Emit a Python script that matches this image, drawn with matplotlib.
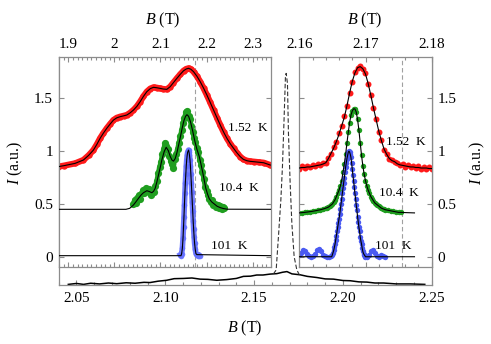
import matplotlib
matplotlib.use("Agg")
import matplotlib.pyplot as plt
from matplotlib.ticker import MultipleLocator, FormatStrFormatter, FuncFormatter

plt.rcParams['font.family'] = ['Liberation Serif', 'DejaVu Serif']
plt.rcParams['mathtext.fontset'] = 'custom'
plt.rcParams['mathtext.rm'] = 'Liberation Serif'
plt.rcParams['mathtext.it'] = 'Liberation Serif:italic'

# ---------------- bottom panel (full B axis) ----------------
bot_B = [2.0454, 2.0500, 2.0540, 2.0580, 2.0630, 2.0680, 2.0727, 2.0780, 2.0830, 2.0880,
         2.0914, 2.0960, 2.1008, 2.1050, 2.1102, 2.1150, 2.1196, 2.1240, 2.1290, 2.1346,
         2.1400, 2.1440, 2.1480, 2.1515, 2.1550, 2.1590, 2.1628, 2.1660, 2.1685, 2.1713,
         2.1759, 2.1800, 2.1854, 2.1900, 2.1947, 2.2000, 2.2041, 2.2090, 2.2135, 2.2180,
         2.2229, 2.2300, 2.2380, 2.2461]
bot_I = [0.004, 0.008, 0.004, 0.009, 0.006, 0.010, 0.007, 0.011, 0.009, 0.013,
         0.012, 0.018, 0.022, 0.029, 0.030, 0.032, 0.027, 0.026, 0.022, 0.025,
         0.030, 0.039, 0.040, 0.045, 0.045, 0.049, 0.051, 0.057, 0.060, 0.050,
         0.046, 0.039, 0.034, 0.028, 0.027, 0.021, 0.020, 0.015, 0.014, 0.010,
         0.010, 0.006, 0.006, 0.004]
dash_B = [2.1609, 2.16243, 2.16372, 2.16507, 2.16597, 2.16693, 2.16766, 2.16806,
          2.16879, 2.16935, 2.17031, 2.17127, 2.17256, 2.17408, 2.1759]
dash_I = [0.050, 0.067, 0.213, 0.373, 0.519, 0.738, 0.913, 0.927,
          0.884, 0.665, 0.446, 0.271, 0.125, 0.067, 0.040]

# ---------------- left panel ----------------
red_l_B = [1.878, 1.890, 1.9146, 1.9327, 1.9440, 1.9544, 1.9620, 1.9689, 1.9760, 1.9834,
           1.9910, 1.9979, 2.0050, 2.0124, 2.0200, 2.0269, 2.0340, 2.0414, 2.0490, 2.0559,
           2.0630, 2.0704, 2.0780, 2.0849, 2.0920, 2.0993, 2.1060, 2.1138, 2.1211, 2.1280,
           2.1356, 2.1430, 2.1501, 2.1560, 2.1609, 2.1660, 2.1718, 2.1790, 2.1863, 2.1935,
           2.2008, 2.2080, 2.2153, 2.2225, 2.2298, 2.2370, 2.2443, 2.2515, 2.2588, 2.2660,
           2.2733, 2.2800, 2.2878, 2.2950, 2.3023, 2.3130, 2.3240, 2.3385]
red_l_I = [0.853, 0.862, 0.884, 0.916, 0.960, 1.010, 1.065, 1.121, 1.170, 1.216,
           1.258, 1.294, 1.315, 1.326, 1.334, 1.342, 1.362, 1.389, 1.425, 1.468,
           1.518, 1.563, 1.592, 1.604, 1.600, 1.594, 1.588, 1.585, 1.610, 1.648,
           1.689, 1.727, 1.761, 1.778, 1.784, 1.775, 1.752, 1.710, 1.657, 1.597,
           1.531, 1.461, 1.389, 1.318, 1.247, 1.181, 1.121, 1.070, 1.026, 0.984,
           0.947, 0.922, 0.909, 0.903, 0.900, 0.895, 0.890, 0.868]

green_l_B = [2.041, 2.044, 2.047, 2.050, 2.053, 2.056, 2.059, 2.062, 2.065, 2.068,
             2.071, 2.074, 2.077, 2.080, 2.083, 2.086, 2.089, 2.092, 2.095, 2.098,
             2.101, 2.104, 2.107, 2.110, 2.113, 2.116, 2.119, 2.122, 2.125, 2.128,
             2.131, 2.134, 2.137, 2.140, 2.143, 2.146, 2.149, 2.152, 2.155, 2.158,
             2.161, 2.164, 2.167, 2.170, 2.173, 2.176, 2.179, 2.182, 2.185, 2.188,
             2.191, 2.194, 2.197, 2.200, 2.203, 2.206, 2.209, 2.212, 2.215, 2.218,
             2.221, 2.224, 2.227, 2.230, 2.233, 2.236, 2.239]
green_l_I = [0.50, 0.54, 0.51, 0.56, 0.58, 0.55, 0.60, 0.63, 0.60, 0.65,
             0.62, 0.64, 0.60, 0.58, 0.63, 0.61, 0.67, 0.72, 0.79, 0.85,
             0.90, 0.97, 1.02, 1.08, 1.05, 1.02, 0.95, 0.91, 0.88, 0.84,
             0.93, 0.97, 1.02, 1.08, 1.14, 1.20, 1.27, 1.31, 1.37, 1.38,
             1.33, 1.30, 1.24, 1.18, 1.12, 1.09, 1.03, 0.99, 0.92, 0.87,
             0.80, 0.74, 0.66, 0.62, 0.58, 0.55, 0.52, 0.54, 0.49, 0.50,
             0.47, 0.49, 0.46, 0.48, 0.45, 0.47, 0.46]
green_l_fitB = [1.879, 2.025, 2.033, 2.0413, 2.0470, 2.0522, 2.0580, 2.0630, 2.0704, 2.0760,
                2.0813, 2.0850, 2.0885, 2.0920, 2.0957, 2.1000, 2.1030, 2.1080, 2.1124, 2.1170,
                2.1211, 2.1250, 2.1283, 2.1320, 2.1357, 2.1400, 2.1428, 2.1470, 2.1510, 2.1545,
                2.1575, 2.1610, 2.1650, 2.1700, 2.1743, 2.1790, 2.1841, 2.1880, 2.1917, 2.1950,
                2.1983, 2.2020, 2.2059, 2.2110, 2.2167, 2.2230, 2.2298, 2.2370, 2.2450, 2.3400]
green_l_fitI = [0.449, 0.449, 0.458, 0.490, 0.522, 0.553, 0.585, 0.606, 0.625, 0.617,
                0.606, 0.620, 0.648, 0.705, 0.774, 0.855, 0.916, 0.995, 1.036, 1.005,
                0.950, 0.915, 0.905, 0.930, 0.985, 1.070, 1.125, 1.215, 1.290, 1.330,
                1.345, 1.330, 1.280, 1.190, 1.100, 1.020, 0.950, 0.875, 0.800, 0.725,
                0.650, 0.595, 0.550, 0.520, 0.500, 0.478, 0.465, 0.456, 0.450, 0.449]

blue_l_B = [2.1430, 2.1445, 2.1460, 2.1475, 2.1490, 2.1500, 2.1510, 2.1520, 2.1530, 2.1540,
            2.1550, 2.1560, 2.1570, 2.1580, 2.1590, 2.1600, 2.1610, 2.1620, 2.1630, 2.1640,
            2.1650, 2.1660, 2.1670, 2.1680, 2.1690, 2.1700, 2.1710, 2.1720, 2.1730, 2.1740,
            2.1755, 2.1770, 2.1790, 2.1810, 2.1830, 2.1848]
blue_l_I = [0.02, 0.01, 0.03, 0.08, 0.18, 0.28, 0.38, 0.49, 0.60, 0.70,
            0.78, 0.86, 0.92, 0.96, 0.99, 1.00, 1.01, 0.99, 0.96, 0.92,
            0.86, 0.78, 0.70, 0.61, 0.52, 0.43, 0.34, 0.26, 0.19, 0.13,
            0.07, 0.03, 0.02, 0.01, 0.02, 0.01]
blue_l_base = 0.01
dash_left = 2.174

# ---------------- right panel ----------------
red_r_B = [2.1600, 2.1604, 2.1608, 2.1612, 2.1616, 2.1620, 2.1624, 2.1628, 2.1632, 2.1636,
           2.1640, 2.1644, 2.1648, 2.1652, 2.1656, 2.1660, 2.1664, 2.1668, 2.1672, 2.1676,
           2.1680, 2.1684, 2.1688, 2.1692, 2.1696, 2.1700, 2.1704, 2.1708, 2.1712, 2.1716,
           2.1720, 2.1724, 2.1728, 2.1732, 2.1736, 2.1740, 2.1744, 2.1748, 2.1752, 2.1756,
           2.1760, 2.1764, 2.1768, 2.1772, 2.1776, 2.1780, 2.1784, 2.1788, 2.1792, 2.1796,
           2.1800]
red_r_I = [0.835, 0.855, 0.840, 0.860, 0.850, 0.870, 0.855, 0.875, 0.865, 0.890,
           0.885, 0.935, 0.975, 1.040, 1.085, 1.170, 1.235, 1.330, 1.425, 1.555,
           1.655, 1.745, 1.790, 1.805, 1.775, 1.735, 1.635, 1.535, 1.405, 1.305,
           1.185, 1.105, 1.015, 0.975, 0.925, 0.915, 0.895, 0.890, 0.865, 0.875,
           0.850, 0.865, 0.845, 0.860, 0.840, 0.855, 0.835, 0.850, 0.830, 0.845,
           0.835]
red_r_fit = [0.840, 0.845, 0.845, 0.850, 0.850, 0.855, 0.860, 0.865, 0.870, 0.878,
             0.890, 0.930, 0.980, 1.030, 1.090, 1.160, 1.240, 1.320, 1.430, 1.550,
             1.660, 1.740, 1.790, 1.800, 1.780, 1.730, 1.640, 1.530, 1.410, 1.300,
             1.190, 1.100, 1.020, 0.970, 0.930, 0.910, 0.900, 0.880, 0.870, 0.865,
             0.860, 0.855, 0.850, 0.850, 0.845, 0.845, 0.840, 0.840, 0.840, 0.835,
             0.835]

green_r_B = [2.1600, 2.1604, 2.1608, 2.1612, 2.1616, 2.1620, 2.1624, 2.1628, 2.1632, 2.1636,
             2.1640, 2.1642, 2.1644, 2.1646, 2.1648, 2.1650, 2.1652, 2.1654, 2.1656, 2.1658,
             2.1660, 2.1662, 2.1664, 2.1666, 2.1668, 2.1670, 2.1672, 2.1674, 2.1676, 2.1678,
             2.1680, 2.1682, 2.1684, 2.1686, 2.1688, 2.1690, 2.1692, 2.1694, 2.1696, 2.1698,
             2.1700, 2.1702, 2.1704, 2.1706, 2.1708, 2.1710, 2.1712, 2.1714, 2.1716, 2.1718,
             2.1720, 2.1722, 2.1724, 2.1726, 2.1728, 2.1730, 2.1734, 2.1738, 2.1742, 2.1746,
             2.1750, 2.1754]
green_r_I = [0.415, 0.418, 0.420, 0.423, 0.427, 0.430, 0.435, 0.440, 0.445, 0.452,
             0.460, 0.465, 0.470, 0.480, 0.490, 0.500, 0.520, 0.540, 0.570, 0.600,
             0.630, 0.670, 0.720, 0.800, 0.880, 0.970, 1.080, 1.180, 1.270, 1.340,
             1.380, 1.400, 1.400, 1.370, 1.300, 1.200, 1.080, 0.960, 0.860, 0.780,
             0.720, 0.670, 0.630, 0.600, 0.570, 0.550, 0.530, 0.510, 0.500, 0.490,
             0.480, 0.470, 0.460, 0.455, 0.450, 0.445, 0.440, 0.435, 0.430, 0.425,
             0.420, 0.420]
green_r_tailB = [2.1760, 2.1774]
green_r_tailI = [0.418, 0.415]

blue_r_B = [2.1600, 2.1603, 2.1606, 2.1609, 2.1612, 2.1615, 2.1618, 2.1621, 2.1624, 2.1627,
            2.1630, 2.1633, 2.1636, 2.1639, 2.1642, 2.1645, 2.1648,
            2.1650, 2.1651, 2.1652, 2.1653, 2.1654, 2.1655, 2.1656, 2.1657, 2.1658, 2.1659,
            2.1660, 2.1661, 2.1662, 2.1663, 2.1664, 2.1665, 2.1666, 2.1667, 2.1668, 2.1669,
            2.1670, 2.1671, 2.1672, 2.1673, 2.1674, 2.1675, 2.1676, 2.1677, 2.1678, 2.1679,
            2.1680, 2.1681, 2.1682, 2.1683, 2.1684, 2.1685, 2.1686, 2.1687, 2.1688, 2.1689,
            2.1690, 2.1691, 2.1692, 2.1693, 2.1694, 2.1695, 2.1696, 2.1697, 2.1698, 2.1699,
            2.1700, 2.1702, 2.1705, 2.1708, 2.1711, 2.1714, 2.1717, 2.1720, 2.1723, 2.1726, 2.1729]
blue_r_I = [0.02, 0.04, 0.06, 0.05, 0.03, 0.01, 0.00, 0.01, 0.03, 0.06,
            0.07, 0.05, 0.02, 0.01, 0.00, 0.00, 0.01,
            0.02, 0.04, 0.06, 0.09, 0.12, 0.16, 0.20, 0.24, 0.28, 0.32,
            0.36, 0.40, 0.45, 0.50, 0.55, 0.60, 0.65, 0.70, 0.75, 0.80,
            0.85, 0.89, 0.93, 0.96, 0.99, 1.00, 0.99, 0.97, 0.94, 0.89,
            0.83, 0.77, 0.72, 0.66, 0.60, 0.55, 0.49, 0.44, 0.38, 0.33,
            0.28, 0.24, 0.19, 0.15, 0.12, 0.08, 0.05, 0.03, 0.02, 0.01,
            0.00, 0.00, 0.02, 0.05, 0.06, 0.04, 0.01, 0.00, 0.02, 0.01, 0.00]
blue_r_fitB = [2.1600, 2.1649] + blue_r_B[17:68] + [2.1774]
blue_r_fitI = [0.0, 0.0] + blue_r_I[17:68] + [0.0]
dash_right = 2.1755

labels_l = [(2.247, 1.22, "1.52  K"), (2.226, 0.655, "10.4  K"), (2.2096, 0.10, "101  K")]
labels_r = [(2.1731, 1.086, "1.52  K"), (2.1720, 0.603, "10.4  K"), (2.1714, 0.097, "101  K")]

RED = '#ff1a1a'
GREEN = '#1f9e1f'
BLUE = '#4a5af2'
GREY = '#8c8c8c'

W, H = 491, 344
fig = plt.figure(figsize=(W / 100, H / 100), dpi=100)


def rect(x0, y0, x1, y1):
    return [x0 / W, 1 - y1 / H, (x1 - x0) / W, (y1 - y0) / H]


def style(ax):
    for s in ax.spines.values():
        s.set_color(GREY)
        s.set_linewidth(0.9)
    ax.tick_params(which='both', direction='in', color=GREY, width=0.8, labelsize=11)
    ax.tick_params(which='major', length=3.5)
    ax.tick_params(which='minor', length=2.2)


gfmt = FuncFormatter(lambda v, p: f"{v:g}")

# bottom axes
axb = fig.add_axes(rect(58.7, 56.7, 431.7, 285.3))
style(axb)
axb.spines['top'].set_visible(False)
axb.plot(bot_B, bot_I, color='black', lw=1.1)
axb.plot(dash_B, dash_I, color='#333333', lw=0.8, dashes=(4, 2))
axb.set_xlim(2.04, 2.25)
axb.set_ylim(0, 1)
axb.set_yticks([])
axb.xaxis.set_major_locator(MultipleLocator(0.05))
axb.xaxis.set_minor_locator(MultipleLocator(0.01))
axb.xaxis.set_major_formatter(FormatStrFormatter('%.2f'))
axb.tick_params(axis='x', pad=5)

# left panel
axl = fig.add_axes(rect(58.7, 56.7, 271, 267.3))
style(axl)
axl.axvline(dash_left, color='#a0a0a0', lw=0.8, dashes=(4, 2.5), zorder=1)
axl.plot(red_l_B, red_l_I, color=RED, lw=4.5, marker='o', ms=4.6, mec='none', zorder=2)
axl.plot(red_l_B, red_l_I, color='black', lw=0.8, zorder=5)
axl.plot(green_l_B, green_l_I, 'o', color=GREEN, ms=5.2, mec='none', zorder=2)
axl.plot(green_l_B, green_l_I, color=GREEN, lw=3.5, zorder=2)
axl.plot(green_l_fitB, green_l_fitI, color='black', lw=0.8, zorder=5)
axl.plot(blue_l_B, blue_l_I, color='#6470ff', lw=4.0, marker='o', ms=4.0, mec='none',
         alpha=0.9, zorder=3)
axl.plot([1.879] + blue_l_B[1:33] + [2.34],
         [blue_l_base] + blue_l_I[1:33] + [blue_l_base], color='black', lw=0.8, zorder=5)
axl.set_xlim(1.879, 2.34)
axl.set_ylim(-0.10, 1.894)
axl.xaxis.set_major_locator(MultipleLocator(0.1))
axl.xaxis.set_minor_locator(MultipleLocator(0.01))
axl.xaxis.set_major_formatter(gfmt)
axl.yaxis.set_major_locator(MultipleLocator(0.5))
axl.yaxis.set_major_formatter(gfmt)
axl.tick_params(axis='x', which='both', top=True, bottom=True, labeltop=True,
                labelbottom=False, pad=4)
axl.tick_params(axis='y', left=True, right=True, pad=4)
for x, y, t in labels_l:
    axl.text(x, y, t, fontsize=9.5, ha='left', va='center', zorder=6)

# right panel
axr = fig.add_axes(rect(299.3, 56.7, 431.7, 267.3))
style(axr)
axr.axvline(dash_right, color='#a0a0a0', lw=0.8, dashes=(4, 2.5), zorder=1)
axr.plot(red_r_B, red_r_I, 'o', color=RED, ms=4.3, mec='none', zorder=2)
axr.plot(red_r_B, red_r_fit, color='black', lw=0.8, zorder=5)
axr.plot(green_r_B, green_r_I, 'o', color=GREEN, ms=3.9, mec='none', zorder=2)
axr.plot(green_r_B + green_r_tailB, green_r_I + green_r_tailI, color='black', lw=0.8, zorder=5)
axr.plot(blue_r_B, blue_r_I, 'o', color=BLUE, ms=3.9, mec='none', zorder=2)
axr.plot(blue_r_fitB, blue_r_fitI, color='black', lw=0.8, zorder=5)
axr.set_xlim(2.16, 2.18)
axr.set_ylim(-0.10, 1.894)
axr.xaxis.set_major_locator(MultipleLocator(0.01))
axr.xaxis.set_minor_locator(MultipleLocator(0.002))
axr.xaxis.set_major_formatter(FormatStrFormatter('%.2f'))
axr.yaxis.set_major_locator(MultipleLocator(0.5))
axr.yaxis.set_major_formatter(gfmt)
axr.tick_params(axis='x', which='both', top=True, bottom=True, labeltop=True,
                labelbottom=False, pad=4)
axr.tick_params(axis='y', left=True, right=True, labelleft=False, labelright=True, pad=4)
for x, y, t in labels_r:
    axr.text(x, y, t, fontsize=9.5, ha='left', va='center', zorder=6)

# axis titles
fig.text(163 / W, 1 - 20 / H, "$B$ (T)", fontsize=11.5, ha='center', va='center')
fig.text(365 / W, 1 - 20 / H, "$B$ (T)", fontsize=11.5, ha='center', va='center')
fig.text(245 / W, 1 - 328 / H, "$B$ (T)", fontsize=11.5, ha='center', va='center')
fig.text(15 / W, 1 - 163 / H, "$I$ (a.u.)", fontsize=11.5, ha='center', va='center',
         rotation=90)
fig.text(477 / W, 1 - 163 / H, "$I$ (a.u.)", fontsize=11.5, ha='center', va='center',
         rotation=90)

fig.savefig("out.png", dpi=100)
